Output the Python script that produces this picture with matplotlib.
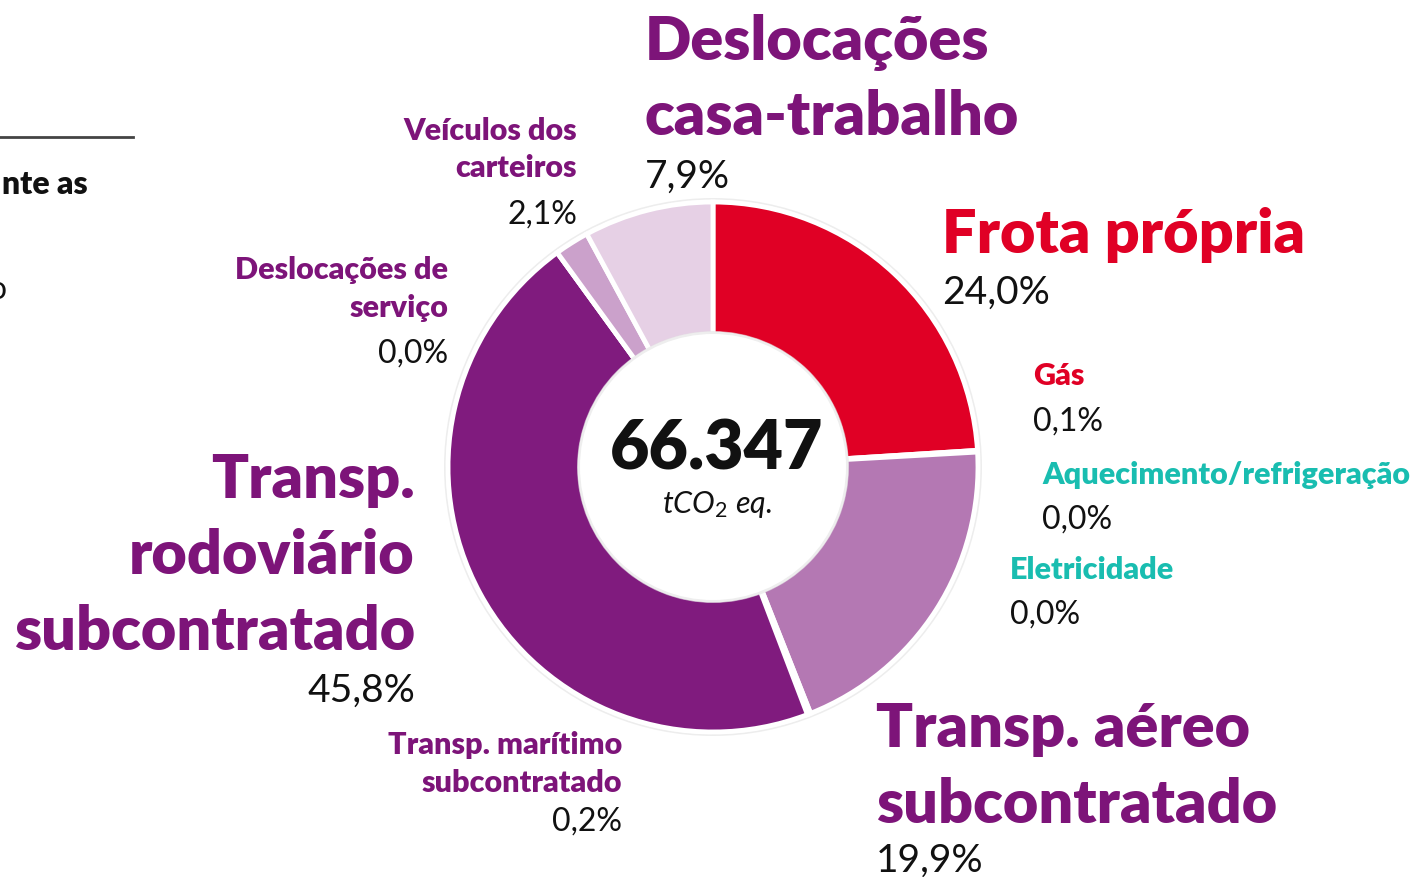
"""
Donut of tCO2 eq. emissions by source, with labels set around the ring.
"""

import matplotlib.pyplot as plt
import matplotlib.patches as mpatches

# data, clockwise from 12 o'clock
labels = [
    "Frota própria", "Gás", "Aquecimento/refrigeração", "Eletricidade",
    "Transp. aéreo subcontratado", "Transp. marítimo subcontratado",
    "Transp. rodoviário subcontratado", "Deslocações de serviço",
    "Veículos dos carteiros", "Deslocações casa-trabalho",
]
shares = [24.0, 0.1, 0.0, 0.0, 19.9, 0.2, 45.8, 0.0, 2.1, 7.9]
wedge_colours = [
    "#e00025", "#e00025", "#1fbcae", "#1fbcae", "#b478b3",
    "#801b7e", "#801b7e", "#801b7e", "#cba1cb", "#e6d0e5",
]
total = "66.347"
unit = "tCO$_2$ eq."

RED = "#e00025"
PURPLE = "#7d1479"
TEAL = "#19bdb0"

W, H = 1417, 877
CX, CY, R_OUT, R_IN = 713, 467, 265, 133

plt.rcParams["font.family"] = ["Lato", "DejaVu Sans"]
plt.rcParams["mathtext.fontset"] = "custom"
plt.rcParams["mathtext.it"] = "Lato:italic"
plt.rcParams["mathtext.rm"] = "Lato"

fig = plt.figure(figsize=(W / 100, H / 100), dpi=100)
ax = fig.add_axes([0, 0, 1, 1])


def Y(y):
    # picture rows run downwards, axes y runs upwards
    return H - y


# faint shadow behind the ring
ax.add_patch(mpatches.Circle((CX, Y(CY)), R_OUT + 4, color="#dcdcdc",
                             alpha=0.5, zorder=1, lw=0))
ax.add_patch(mpatches.Circle((CX, Y(CY)), R_OUT + 2, color="white",
                             zorder=1.5, lw=0))

vals = [max(v, 1e-9) for v in shares]
ax.pie(vals, colors=wedge_colours, startangle=90, counterclock=False,
       center=(CX, Y(CY)), radius=R_OUT,
       wedgeprops=dict(width=R_OUT - R_IN, edgecolor="white", linewidth=3.5,
                       zorder=2),
       frame=True)
ax.set_xlim(0, W)
ax.set_ylim(0, H)
ax.set_aspect("equal")
ax.axis("off")

ax.add_patch(mpatches.Circle((CX, Y(CY)), R_IN + 3, color="#e4e4e4",
                             alpha=0.6, zorder=5, lw=0))
ax.add_patch(mpatches.Circle((CX, Y(CY)), R_IN, color="white",
                             zorder=6, lw=0))

ax.text(717, Y(470), total, ha="center", va="baseline", fontsize=49,
        fontweight="heavy", color="#111111", zorder=7)
ax.text(717, Y(513), unit, ha="center", va="baseline", fontsize=22,
        style="italic", color="#111111", zorder=7)


def pct(v):
    return f"{v:.1f}%".replace(".", ",")


# label layout: (x, align, colour, size, [(line, baseline)...], pct baseline, pct size)
layout = {
    "Deslocações casa-trabalho": (645, "left", PURPLE, 44,
                                  [("Deslocações", 60), ("casa-trabalho", 135)], 188, 28),
    "Veículos dos carteiros": (577, "right", PURPLE, 22,
                               [("Veículos dos", 140), ("carteiros", 177)], 224, 23),
    "Frota própria": (942, "left", RED, 44, [("Frota própria", 253)], 304, 28),
    "Gás": (1033, "left", RED, 22, [("Gás", 385)], 431, 23),
    "Aquecimento/refrigeração": (1042, "left", TEAL, 22,
                                 [("Aquecimento/refrigeração", 484)], 529, 23),
    "Eletricidade": (1010, "left", TEAL, 22, [("Eletricidade", 579)], 624, 23),
    "Transp. aéreo subcontratado": (876, "left", PURPLE, 44,
                                    [("Transp. aéreo", 747), ("subcontratado", 823)], 872, 28),
    "Transp. marítimo subcontratado": (622, "right", PURPLE, 22,
                                       [("Transp. marítimo", 754), ("subcontratado", 792)], 831, 23),
    "Transp. rodoviário subcontratado": (415, "right", PURPLE, 44,
                                         [("Transp.", 498), ("rodoviário", 574),
                                          ("subcontratado", 650)], 702, 28),
    "Deslocações de serviço": (448, "right", PURPLE, 22,
                               [("Deslocações de", 279), ("serviço", 317)], 363, 23),
}

for name, v in zip(labels, shares):
    x, ha, col, size, lines, pby, psize = layout[name]
    for line, by in lines:
        ax.text(x, Y(by), line, ha=ha, va="baseline", fontsize=size,
                fontweight="heavy", color=col)
    ax.text(x, Y(pby), pct(v), ha=ha, va="baseline", fontsize=psize,
            color="#111111")

# pieces of the neighbouring panel that are cut by the crop
ax.plot([0, 133], [Y(137), Y(137)], color="#444444", lw=2)
ax.text(88, Y(194), "nte as", ha="right", va="baseline", fontsize=23,
        fontweight="heavy", color="#111111")
ax.text(8, Y(299), "do", ha="right", va="baseline", fontsize=23,
        color="#111111")

fig.savefig("out.png", dpi=100)
